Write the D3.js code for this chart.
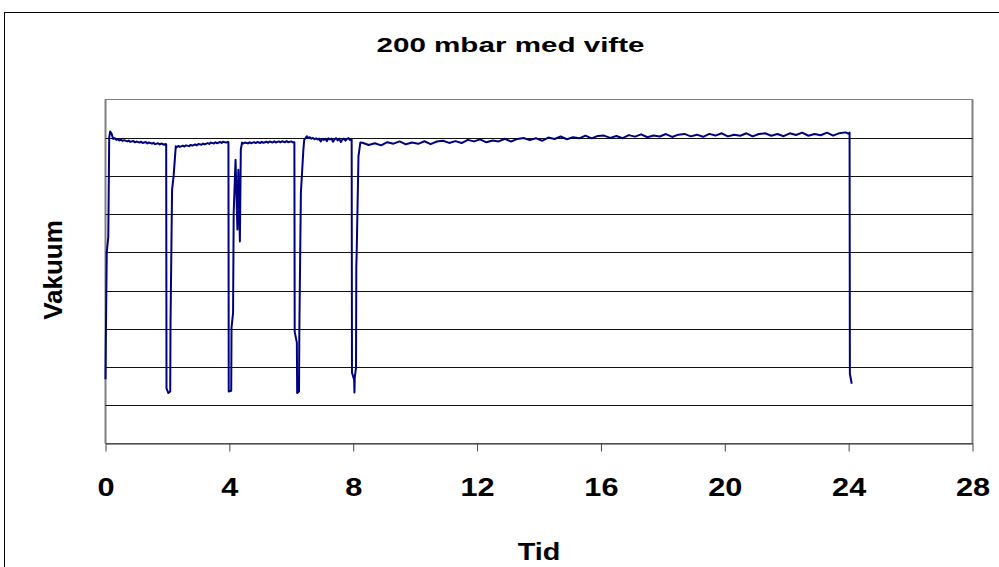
<!DOCTYPE html>
<html>
<head>
<meta charset="utf-8">
<script src="https://cdn.jsdelivr.net/npm/d3@7"></script>
<style>
  body { margin: 0; background: #fff; }
  text { font-family: Arial, "Liberation Sans", sans-serif; font-weight: bold; fill: #000; }
</style>
</head>
<body>
<div id="chart"></div>
<script>
// time in hours
var hours = [
  0, 0.01, 0.04, 0.09, 0.12, 0.15, 0.19, 0.25, 0.30, 0.35, 0.40, 0.45, 0.50, 0.55, 0.60, 0.70, 0.75, 0.80, 0.90, 0.95,
  1.00, 1.10, 1.15, 1.20, 1.30, 1.35, 1.40, 1.50, 1.55, 1.60, 1.70, 1.75, 1.80, 1.90, 1.95,
  1.96, 1.97, 2.03, 2.09, 2.10, 2.15, 2.20, 2.27,
  2.30, 2.35, 2.40, 2.50, 2.55, 2.60, 2.70, 2.75, 2.80, 2.90, 2.95, 3.00, 3.10, 3.15, 3.20, 3.30, 3.35, 3.40, 3.50, 3.55,
  3.60, 3.70, 3.75, 3.80, 3.90, 3.95,
  3.97, 3.98, 4.06, 4.07, 4.12, 4.14, 4.20, 4.26, 4.29, 4.34, 4.37, 4.41,
  4.45, 4.50, 4.60, 4.65, 4.70, 4.80, 4.85, 4.90, 5.00, 5.05, 5.10, 5.20, 5.25, 5.30, 5.40, 5.45, 5.50, 5.60, 5.65, 5.70,
  5.80, 5.85, 5.90, 6.00, 6.05,
  6.10, 6.11, 6.18, 6.19, 6.25, 6.26, 6.31, 6.39, 6.42,
  6.45, 6.50, 6.55, 6.60, 6.65, 6.70, 6.75, 6.80, 6.85, 6.90, 6.95, 7.00, 7.05, 7.10, 7.15, 7.20, 7.25, 7.30, 7.35, 7.40,
  7.45, 7.50, 7.55, 7.60, 7.65, 7.70, 7.75, 7.80, 7.85, 7.90, 7.94,
  7.95, 7.96, 8.03, 8.04, 8.05, 8.09, 8.10, 8.11, 8.17, 8.23,
  8.3, 8.5, 8.7, 8.9, 9.1, 9.3, 9.5, 9.7, 9.9, 10.1, 10.3, 10.5, 10.7, 10.9, 11.1, 11.3, 11.5, 11.7, 11.9,
  12.1, 12.3, 12.5, 12.7, 12.9, 13.1, 13.3, 13.5, 13.7, 13.9, 14.1, 14.3, 14.5, 14.7, 14.9, 15.1, 15.3, 15.5, 15.7, 15.9,
  16.1, 16.3, 16.5, 16.7, 16.9, 17.1, 17.3, 17.5, 17.7, 17.9, 18.1, 18.3, 18.5, 18.7, 18.9, 19.1, 19.3, 19.5, 19.7, 19.9,
  20.1, 20.3, 20.5, 20.7, 20.9, 21.1, 21.3, 21.5, 21.7, 21.9, 22.1, 22.3, 22.5, 22.7, 22.9, 23.1, 23.3, 23.5, 23.7, 23.9,
  24.0, 24.03, 24.04, 24.10
];

// vakuum in mbar
var vakuum = [
  42, 66, 125, 135, 200, 204, 203, 199.2, 199.8, 198.6, 199.1, 198.2, 198.8, 197.9, 198.4, 197.6, 198.1, 197.3, 197.9, 197.0,
  197.5, 196.8, 197.4, 196.6, 197.2, 196.3, 196.9, 196.1, 196.7, 195.8, 196.4, 195.6, 196.2, 195.4, 195.9,
  195.5, 36, 33, 34, 79, 166, 175, 194.4,
  193.8, 194.6, 194.0, 194.8, 194.2, 195.0, 194.5, 195.3, 194.8, 195.6, 195.0, 195.9, 195.4, 196.2, 195.6, 196.5, 195.9, 196.8, 196.2, 197.0,
  196.4, 197.2, 196.6, 197.4, 196.8, 197.3,
  197.0, 34.0, 34.5, 75.7, 85.5, 151, 185.6, 139.9, 179, 132.2, 192.3, 196.8,
  196.2, 196.9, 196.3, 197.0, 196.4, 197.1, 196.5, 197.2, 196.6, 197.3, 196.7, 197.4, 196.8, 197.5, 196.9, 197.6, 196.9, 197.6, 197.0, 197.7,
  197.0, 197.8, 197.1, 197.6, 197.0,
  197.0, 73, 66, 33, 34, 74, 164, 192, 199,
  199.5, 201.0, 199.8, 200.3, 199.4, 199.9, 199.0, 199.6, 198.8, 199.4, 197.6, 199.2, 198.6, 199.3, 197.8, 199.6, 198.9, 199.5, 197.4, 199.0,
  199.7, 198.2, 199.4, 197.2, 198.8, 199.5, 198.1, 199.3, 199.8, 198.5, 198.9,
  198.9, 46.3, 41.7, 33.4, 43.4, 49.4, 115.8, 122.4, 187.9, 196.8,
  196.7, 195.2, 196.4, 195.0, 197.1, 196.1, 197.6, 195.7, 196.9, 196.0, 197.7, 195.8, 197.5, 198.0, 196.6, 197.8, 196.5, 198.6, 197.6,
  198.9, 197.0, 198.2, 197.6, 199.3, 197.5, 199.2, 199.8, 198.4, 199.7, 198.0, 200.1, 199.2, 200.8, 199.0, 200.3, 199.6, 201.4, 199.6, 201.2,
  201.4, 199.9, 201.1, 199.7, 201.7, 200.7, 202.2, 200.3, 201.5, 200.8, 202.4, 200.5, 202.0, 202.5, 200.9, 202.0, 200.6, 202.5, 201.4, 202.9,
  200.9, 202.0, 201.3, 202.9, 200.9, 202.4, 202.9, 201.3, 202.4, 201.0, 202.9, 201.8, 203.3, 201.3, 202.4, 201.6, 203.3, 201.4, 203.0, 203.5,
  202.6, 203.4, 45.6, 39.1
];

var xTicks = [0, 4, 8, 12, 16, 20, 24, 28];
var yGrid = [25, 50, 75, 100, 125, 150, 175, 200];

var width = 999, height = 567;
var plotLeft = 105.5, plotRight = 972.5, plotTop = 99.5, plotBottom = 443.5;

var svg = d3.select("#chart").append("svg")
  .attr("width", width)
  .attr("height", height);

// outer chart border
svg.append("rect")
  .attr("x", 4.5).attr("y", 12.5)
  .attr("width", 1000).attr("height", 600)
  .style("fill", "#fff")
  .style("stroke", "#000");

var x = d3.scaleLinear().domain([0, 28]).range([plotLeft, plotRight]);
var y = d3.scaleLinear().domain([0, 225]).range([plotBottom, plotTop]);

// plot area
svg.append("rect")
  .attr("x", plotLeft).attr("y", plotTop)
  .attr("width", plotRight - plotLeft).attr("height", plotBottom - plotTop)
  .style("fill", "#fff")
  .style("stroke", "#808080");

svg.selectAll(".side")
  .data([plotLeft, plotRight])
  .enter().append("line")
  .attr("class", "side")
  .attr("x1", d => d).attr("x2", d => d)
  .attr("y1", plotTop).attr("y2", plotBottom)
  .style("stroke", "#808080")
  .style("stroke-width", 2);

svg.selectAll(".grid")
  .data(yGrid)
  .enter().append("line")
  .attr("class", "grid")
  .attr("x1", plotLeft).attr("x2", plotRight)
  .attr("y1", d => Math.round(y(d)) + 0.5).attr("y2", d => Math.round(y(d)) + 0.5)
  .style("stroke", "#111")
  .style("stroke-width", 1);

// x axis
var xAxis = svg.append("g")
  .attr("transform", "translate(0," + plotBottom + ")")
  .call(d3.axisBottom(x).tickValues(xTicks).tickSize(8).tickSizeOuter(0));

xAxis.select(".domain").style("stroke", "#222");
xAxis.selectAll(".tick line").style("stroke", "#444");
xAxis.selectAll(".tick text")
  .attr("y", 52.5)
  .attr("dy", 0)
  .attr("transform", "scale(1.18,1)")
  .style("font-family", "Arial, 'Liberation Sans', sans-serif")
  .style("font-weight", "bold")
  .style("font-size", "26px")
  .style("fill", "#000");

// the series
var line = d3.line()
  .x((d, i) => x(hours[i]))
  .y(d => y(d));

svg.append("path")
  .datum(vakuum)
  .attr("d", line)
  .style("fill", "none")
  .style("stroke", "#000080")
  .style("stroke-width", 2)
  .style("stroke-linejoin", "round");

// titles
svg.append("text")
  .attr("transform", "translate(510.5,52) scale(1.48,1)")
  .attr("text-anchor", "middle")
  .style("font-size", "20px")
  .text("200 mbar med vifte");

svg.append("text")
  .attr("transform", "translate(539,560) scale(1.2,1)")
  .attr("text-anchor", "middle")
  .style("font-size", "24px")
  .text("Tid");

svg.append("text")
  .attr("transform", "translate(61.5,270) rotate(-90)")
  .attr("text-anchor", "middle")
  .style("font-size", "26px")
  .text("Vakuum");
</script>
</body>
</html>
